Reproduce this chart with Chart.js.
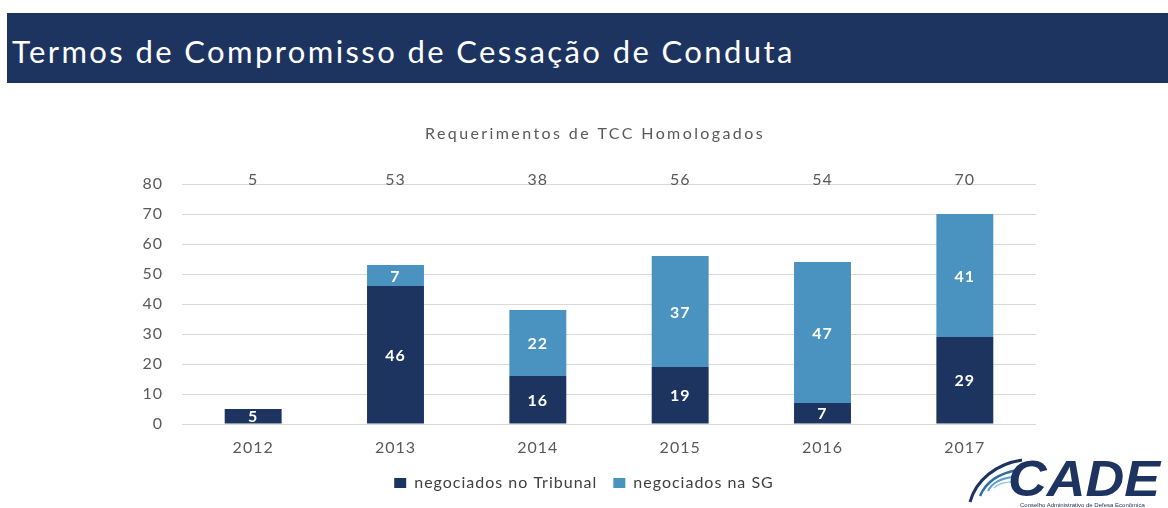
<!DOCTYPE html>
<html>
<head>
<meta charset="utf-8">
<script src="https://cdn.jsdelivr.net/npm/chart.js@4.4.0/dist/chart.umd.min.js"></script>
<style>
  html, body { margin: 0; padding: 0; background: #fff; }
  body { width: 1168px; height: 508px; position: relative; overflow: hidden; font-family: Lato, "Open Sans", sans-serif; }
  #chartBox { position: absolute; left: 0; top: 0; width: 1168px; height: 508px; }
  #header { position: absolute; left: 7px; top: 13px; width: 1161px; height: 70px; background: #1d3461; }
  #header h1 { position: absolute; left: 5px; top: 23px; margin: 0; color: #fff; font-weight: 400; font-size: 31px; line-height: 31px; letter-spacing: 2.4px; white-space: nowrap; }
  #logo { position: absolute; left: 962px; top: 450px; width: 206px; height: 58px; }
</style>
</head>
<body>
<div id="chartBox"><canvas id="tccChart" width="1168" height="508"></canvas></div>
<div id="header"><h1>Termos de Compromisso de Cessação de Conduta</h1></div>
<svg id="logo" viewBox="0 0 206 58">
  <path d="M8 52 C 14 30, 34 14, 60 10" fill="none" stroke="#1d3461" stroke-width="3"/>
  <path d="M18 46 C 24 32, 38 23, 56 20" fill="none" stroke="#2f6ea6" stroke-width="2.5"/>
  <path d="M26 41 C 30 33, 40 28, 52 27" fill="none" stroke="#5a9fd0" stroke-width="2"/>
  <path d="M32 38 C 36 34, 43 32, 50 32" fill="none" stroke="#9cc6e6" stroke-width="1.5"/>
  <text x="46" y="46" textLength="152" lengthAdjust="spacingAndGlyphs" font-family="'Liberation Sans', Arial, sans-serif" font-weight="bold" font-style="italic" font-size="50" fill="#1d3461">CADE</text>
  <text x="58" y="57" font-family="'Liberation Sans', Arial, sans-serif" font-size="6" fill="#1d3461">Conselho Administrativo de Defesa Econômica</text>
</svg>
<script>
const years = ["2012", "2013", "2014", "2015", "2016", "2017"];
const negociadosTribunal = [5, 46, 16, 19, 7, 29];
const negociadosSG = [0, 7, 22, 37, 47, 41];
const yTickMax = 80;
const yTickStep = 10;
const chartTitle = "Requerimentos de TCC Homologados";

const totals = years.map((_, i) => negociadosTribunal[i] + negociadosSG[i]);

const DARK = "#1d3461";
const LIGHT = "#4a93c0";
const GREY = "#595959";

// Gill Sans in the slide is wider than Lato, so add a little tracking
const spacing = {
  id: "spacing",
  beforeLayout(chart) { chart.ctx.letterSpacing = "1px"; },
  beforeDraw(chart) { chart.ctx.letterSpacing = "1px"; },
};

const titleAndTotals = {
  id: "titleAndTotals",
  afterDraw(chart) {
    const { ctx, chartArea, scales } = chart;
    ctx.save();
    ctx.fillStyle = GREY;
    ctx.textAlign = "center";
    ctx.textBaseline = "alphabetic";
    ctx.font = "16px Lato";
    ctx.letterSpacing = "2.4px";
    ctx.fillText(chartTitle, (chartArea.left + chartArea.right) / 2 - 14, 139);
    ctx.letterSpacing = "1px";
    const yTop = scales.y.getPixelForValue(yTickMax);
    totals.forEach((t, i) => {
      ctx.fillText(t, scales.x.getPixelForValue(i), yTop + 1);
    });
    ctx.restore();
  },
};

const segmentLabels = {
  id: "segmentLabels",
  afterDatasetsDraw(chart) {
    const { ctx } = chart;
    ctx.save();
    ctx.font = "bold 16px Lato";
    ctx.fillStyle = "#fff";
    ctx.textAlign = "center";
    ctx.textBaseline = "middle";
    chart.data.datasets.forEach((ds, i) => {
      chart.getDatasetMeta(i).data.forEach((bar, j) => {
        if (!ds.data[j]) return;
        const { x, y, base } = bar.getProps(["x", "y", "base"], true);
        ctx.fillText(ds.data[j], x, (y + base) / 2 + 1);
      });
    });
    ctx.restore();
  },
};

const ctx = document.getElementById("tccChart").getContext("2d");
new Chart(ctx, {
  type: "bar",
  data: {
    labels: years,
    datasets: [
      { label: "negociados no Tribunal", data: negociadosTribunal, backgroundColor: DARK },
      { label: "negociados na SG", data: negociadosSG, backgroundColor: LIGHT },
    ],
  },
  options: {
    responsive: false,
    animation: false,
    barPercentage: 0.4,
    categoryPercentage: 1,
    layout: { padding: { left: 132, right: 132, top: 184, bottom: 7 } },
    plugins: {
      title: { display: false },
      tooltip: { enabled: false },
      legend: {
        position: "bottom",
        labels: {
          boxWidth: 12,
          boxHeight: 10,
          padding: 16,
          color: "#404040",
          font: { family: "Lato", size: 16 },
        },
      },
    },
    scales: {
      x: {
        stacked: true,
        grid: { display: false, drawTicks: false },
        border: { display: false },
        ticks: { color: GREY, padding: 14, font: { family: "Lato", size: 16 } },
        afterFit(scale) { scale.height = 35; },
      },
      y: {
        stacked: true,
        min: 0,
        max: yTickMax,
        grid: { color: "#d9d9d9", drawTicks: false },
        border: { display: false },
        ticks: { stepSize: yTickStep, color: GREY, padding: 19, font: { family: "Lato", size: 16 } },
        afterFit(scale) { scale.width = 50; },
      },
    },
  },
  plugins: [spacing, titleAndTotals, segmentLabels],
});
</script>
</body>
</html>
